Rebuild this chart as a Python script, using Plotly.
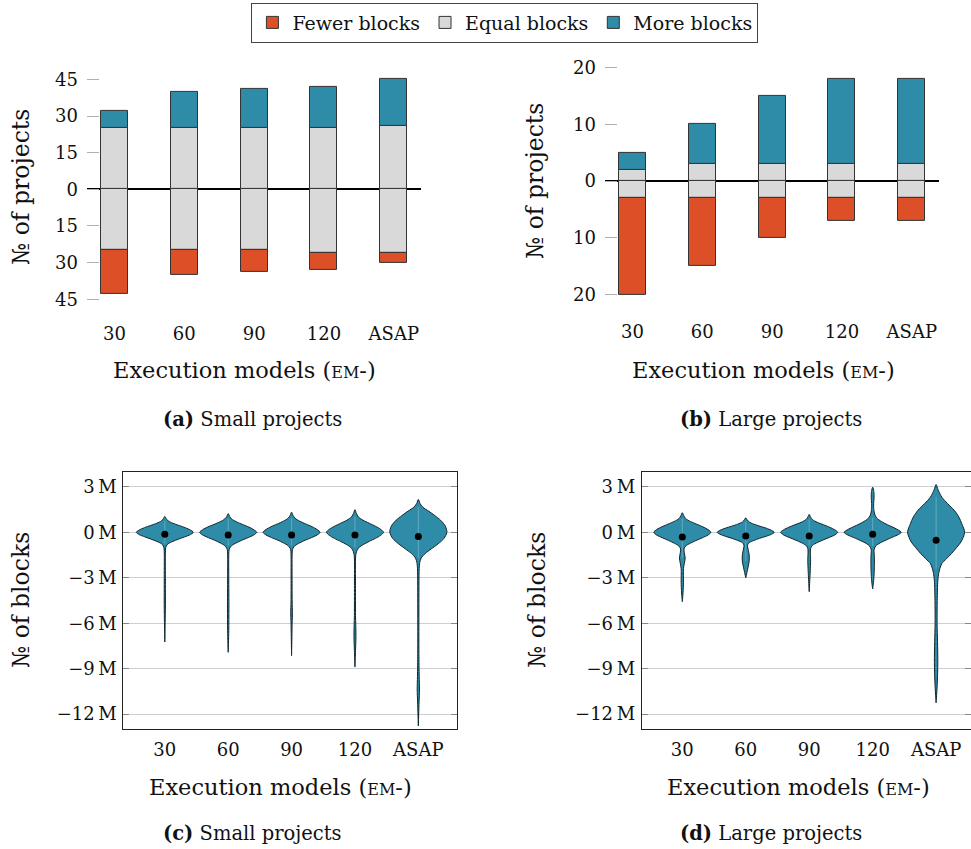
import plotly.graph_objects as go

# ---- data -------------------------------------------------------------
models = ["30", "60", "90", "120", "ASAP"]

# (a) small projects: number of projects per execution model
small_equal_up = [25, 25, 25, 25, 26]
small_equal_down = [25, 25, 25, 26, 26]
small_more = [7, 15, 16, 17, 19]
small_fewer = [18, 10, 9, 7, 4]

# (b) large projects
large_equal_up = [2, 3, 3, 3, 3]
large_equal_down = [3, 3, 3, 3, 3]
large_more = [3, 7, 12, 15, 15]
large_fewer = [17, 12, 7, 4, 4]

# violin outlines: levels (millions of blocks) and
# relative half widths
small_violin_y = [
    [1.05, 0.9, 0.75, 0.6, 0.45, 0.3, 0.15, 0, -0.15, -0.3, -0.45, -0.6, -0.75, -0.9, -1.1, -3.0, -5.0, -7.24],
    [1.23, 1.05, 0.88, 0.7, 0.52, 0.35, 0.17, 0, -0.17, -0.35, -0.52, -0.7, -0.88, -1.05, -1.25, -3.0, -5.0, -6.5, -7.92],
    [1.33, 1.12, 0.93, 0.74, 0.55, 0.37, 0.18, 0, -0.17, -0.35, -0.52, -0.7, -0.88, -1.05, -1.25, -3.0, -4.6, -5.3, -6.0, -8.14],
    [1.49, 1.25, 1.02, 0.8, 0.6, 0.4, 0.2, 0, -0.2, -0.4, -0.6, -0.8, -1.0, -1.25, -1.55, -3.5, -5.5, -6.8, -7.8, -8.89],
    [2.17, 1.9, 1.65, 1.4, 1.1, 0.8, 0.4, 0, -0.4, -0.75, -1.1, -1.4, -1.7, -2.0, -2.4, -5.0, -8.0, -9.5, -10.4, -11.2, -12.78],
]
small_violin_w = [
    [0, 0.05, 0.12, 0.28, 0.5, 0.72, 0.9, 1.0, 0.9, 0.7, 0.48, 0.28, 0.12, 0.05, 0.025, 0.02, 0.02, 0],
    [0, 0.05, 0.12, 0.28, 0.5, 0.72, 0.9, 1.0, 0.9, 0.7, 0.48, 0.28, 0.12, 0.05, 0.025, 0.02, 0.025, 0.02, 0],
    [0, 0.05, 0.12, 0.28, 0.5, 0.72, 0.9, 1.0, 0.9, 0.7, 0.48, 0.28, 0.12, 0.05, 0.025, 0.018, 0.02, 0.03, 0.02, 0],
    [0, 0.05, 0.12, 0.28, 0.5, 0.72, 0.9, 1.0, 0.9, 0.72, 0.5, 0.3, 0.14, 0.06, 0.025, 0.018, 0.02, 0.035, 0.02, 0],
    [0, 0.06, 0.16, 0.36, 0.58, 0.78, 0.95, 1.0, 0.9, 0.7, 0.45, 0.24, 0.1, 0.05, 0.03, 0.02, 0.02, 0.03, 0.04, 0.025, 0],
]
small_means = [-0.13, -0.18, -0.18, -0.18, -0.28]

large_violin_y = [
    [1.29, 1.1, 0.9, 0.72, 0.54, 0.36, 0.18, 0, -0.18, -0.36, -0.54, -0.72, -0.9, -1.1, -1.35, -1.7, -2.05, -2.4, -3.3, -4.0, -4.58],
    [0.96, 0.82, 0.68, 0.54, 0.4, 0.27, 0.13, 0, -0.13, -0.27, -0.4, -0.54, -0.68, -0.85, -1.1, -1.5, -1.9, -2.3, -2.65, -3.0],
    [1.18, 1.0, 0.83, 0.66, 0.5, 0.33, 0.16, 0, -0.17, -0.34, -0.51, -0.68, -0.85, -1.05, -1.3, -1.8, -2.4, -3.0, -3.92],
    [2.98, 2.7, 2.3, 1.9, 1.5, 1.2, 0.95, 0.72, 0.5, 0.3, 0.15, 0, -0.15, -0.3, -0.5, -0.7, -0.9, -1.15, -1.6, -2.2, -2.8, -3.3, -3.74],
    [3.15, 2.8, 2.32, 1.9, 1.44, 1.0, 0.57, 0, -0.64, -1.0, -1.4, -1.75, -2.06, -2.4, -2.71, -3.2, -4.5, -6.0, -7.2, -8.6, -10.0, -11.25],
]
large_violin_w = [
    [0, 0.05, 0.12, 0.28, 0.5, 0.72, 0.9, 1.0, 0.9, 0.7, 0.48, 0.28, 0.12, 0.06, 0.07, 0.1, 0.07, 0.04, 0.04, 0.025, 0],
    [0, 0.05, 0.12, 0.28, 0.5, 0.72, 0.9, 1.0, 0.9, 0.7, 0.48, 0.28, 0.12, 0.06, 0.08, 0.12, 0.12, 0.08, 0.04, 0],
    [0, 0.05, 0.12, 0.28, 0.5, 0.72, 0.9, 1.0, 0.9, 0.7, 0.48, 0.28, 0.12, 0.05, 0.04, 0.05, 0.04, 0.025, 0],
    [0, 0.04, 0.05, 0.035, 0.04, 0.07, 0.14, 0.3, 0.52, 0.75, 0.9, 1.0, 0.9, 0.72, 0.48, 0.26, 0.11, 0.05, 0.06, 0.06, 0.05, 0.03, 0],
    [0, 0.07, 0.2, 0.4, 0.64, 0.8, 0.9, 1.0, 0.87, 0.72, 0.54, 0.36, 0.2, 0.13, 0.09, 0.06, 0.04, 0.035, 0.05, 0.06, 0.04, 0],
]
large_means = [-0.31, -0.24, -0.24, -0.13, -0.52]

bar_ticks_small = [45, 30, 15, 0, -15, -30, -45]
bar_ticks_large = [20, 10, 0, -10, -20]
block_ticks = [3, 0, -3, -6, -9, -12]

# ---- style ------------------------------------------------------------
W, H = 971, 849
FONT = "DejaVu Serif"
C_FEWER = "#DD4F27"
C_EQUAL = "#D9D9D9"
C_MORE = "#2E8CA9"
EDGE = "#333333"
HALF_W = 0.45
BAR_W = 0.387


def px_x(p):
    return p / W


def px_y(p):
    return 1 - p / H


def abs_label(v):
    return str(abs(v))


def m_label(v):
    s = str(abs(v)) + "\u2009M"
    return ("\u2212" + s) if v < 0 else s


fig = go.Figure()

# ---- diverging stacked bars (a) and (b) -------------------------------
idx = list(range(len(models)))
panels = [
    ("x", "y", small_equal_up, small_more, small_equal_down, small_fewer, True),
    ("x2", "y2", large_equal_up, large_more, large_equal_down, large_fewer, False),
]
for xa, ya, eq_up, more, eq_down, fewer, legend in panels:
    edge = dict(color=EDGE, width=1)
    fig.add_trace(go.Bar(x=idx, y=[-v for v in eq_down], xaxis=xa, yaxis=ya,
                         marker=dict(color=C_EQUAL, line=edge), width=BAR_W,
                         showlegend=False))
    fig.add_trace(go.Bar(x=idx, y=[-v for v in fewer], xaxis=xa, yaxis=ya,
                         name="Fewer blocks", legendrank=1,
                         marker=dict(color=C_FEWER, line=edge), width=BAR_W,
                         showlegend=legend))
    fig.add_trace(go.Bar(x=idx, y=eq_up, xaxis=xa, yaxis=ya,
                         name="Equal blocks", legendrank=2,
                         marker=dict(color=C_EQUAL, line=edge), width=BAR_W,
                         showlegend=legend))
    fig.add_trace(go.Bar(x=idx, y=more, xaxis=xa, yaxis=ya,
                         name="More blocks", legendrank=3,
                         marker=dict(color=C_MORE, line=edge), width=BAR_W,
                         showlegend=legend))

# ---- violins (c) and (d) ----------------------------------------------
for xa, ya, vy, vw, means in [("x3", "y3", small_violin_y, small_violin_w, small_means),
                               ("x4", "y4", large_violin_y, large_violin_w, large_means)]:
    for i, (ys, ws) in enumerate(zip(vy, vw)):
        xs = [i + w * HALF_W for w in ws] + [i - w * HALF_W for w in reversed(ws)]
        yy = list(ys) + list(reversed(ys))
        fig.add_trace(go.Scatter(x=xs, y=yy, xaxis=xa, yaxis=ya, mode="lines",
                                 fill="toself", fillcolor=C_MORE,
                                 line=dict(color="#10262e", width=1, shape="spline", smoothing=0.8),
                                 showlegend=False, hoverinfo="skip"))
        inner = [y for y, w in zip(ys, ws) if w >= 0.1]
        fig.add_trace(go.Scatter(x=[i, i], y=[max(inner), min(inner)], xaxis=xa, yaxis=ya,
                                 mode="lines", line=dict(color="rgba(255,255,255,0.25)", width=1),
                                 showlegend=False, hoverinfo="skip"))
    fig.add_trace(go.Scatter(x=idx, y=means, xaxis=xa, yaxis=ya, mode="markers",
                             marker=dict(color="black", size=7), showlegend=False))

tickfont = dict(family=FONT, size=18, color="#111")

bar_x = dict(range=[-0.394, 4.39], tickvals=idx, ticktext=models, showgrid=False,
             zeroline=False, showline=False, ticks="", tickfont=tickfont,
             ticklabelstandoff=19, automargin=False)
bar_y = dict(showgrid=False, zeroline=True, zerolinecolor="black", zerolinewidth=1.6,
             showline=False, ticks="inside", ticklen=12, tickcolor="#b0b0b0",
             tickfont=tickfont, ticklabelstandoff=8, automargin=False)

vio_x = dict(tickvals=idx, ticktext=models, showgrid=False, zeroline=False,
             showline=True, linecolor="#222", linewidth=1, mirror=True, ticks="",
             tickfont=tickfont, ticklabelstandoff=4, automargin=False)
vio_y = dict(range=[-13, 4], tickvals=block_ticks, ticktext=[m_label(v) for v in block_ticks],
             showgrid=True, gridcolor="#cfcfcf", gridwidth=1, zeroline=False,
             showline=True, linecolor="#222", linewidth=1, mirror="allticks",
             ticks="inside", ticklen=6, tickcolor="#888", tickfont=tickfont,
             ticklabelstandoff=2, automargin=False)

fig.update_layout(
    width=W, height=H, margin=dict(l=0, r=0, t=0, b=0),
    plot_bgcolor="white", paper_bgcolor="white",
    barmode="relative", bargap=0,
    font=dict(family=FONT, color="#111"),
    xaxis=dict(domain=[px_x(87), px_x(421)], anchor="y", **bar_x),
    yaxis=dict(domain=[px_y(301.7), px_y(76.9)], anchor="x", range=[-46, 46],
               tickvals=bar_ticks_small, ticktext=[abs_label(v) for v in bar_ticks_small], **bar_y),
    xaxis2=dict(domain=[px_x(605), px_x(939)], anchor="y2", **bar_x),
    yaxis2=dict(domain=[px_y(300.1), px_y(61.9)], anchor="x2", range=[-21, 21],
                tickvals=bar_ticks_large, ticktext=[abs_label(v) for v in bar_ticks_large], **bar_y),
    xaxis3=dict(domain=[px_x(123.3), px_x(457)], anchor="y3", range=[-0.655, 4.61], **vio_x),
    yaxis3=dict(domain=[px_y(729.3), px_y(471.7)], anchor="x3", **vio_y),
    xaxis4=dict(domain=[px_x(641.7), 1.0], anchor="y4", range=[-0.64, 4.55], **vio_x),
    yaxis4=dict(domain=[px_y(729.3), px_y(471.7)], anchor="x4", **vio_y),
    legend=dict(orientation="h", x=0.52, xanchor="center", y=0.997, yanchor="top",
                bordercolor="#444", borderwidth=1, font=dict(family=FONT, size=19),
                traceorder="normal", itemwidth=30, tracegroupgap=0),
)

xtitle = "Execution models (<span style='font-size:16px'>EM</span>-)"
labels = [
    (245, 370, xtitle, 22.5, 0), (763, 370, xtitle, 22.5, 0),
    (280, 787, xtitle, 22.5, 0), (798, 787, xtitle, 22.5, 0),
    (21, 187, "\u2116 of projects", 23.5, -90), (535, 181, "\u2116 of projects", 23.5, -90),
    (21, 600, "\u2116 of blocks", 23.5, -90), (537, 600, "\u2116 of blocks", 23.5, -90),
    (253, 420, "<b>(a)</b> Small projects", 19.5, 0), (771, 420, "<b>(b)</b> Large projects", 19.5, 0),
    (253, 833, "<b>(c)</b> Small projects", 19.5, 0), (771, 833, "<b>(d)</b> Large projects", 19.5, 0),
]
for x, y, text, size, angle in labels:
    fig.add_annotation(x=px_x(x), y=px_y(y), xref="paper", yref="paper", text=text,
                       showarrow=False, textangle=angle, xanchor="center", yanchor="middle",
                       font=dict(family=FONT, size=size, color="#111"))

# the page's default 8px body margin would shift the figure off the canvas
fig.write_html("out.html", config={"displayModeBar": False},
               post_script="document.body.style.margin='0';")
